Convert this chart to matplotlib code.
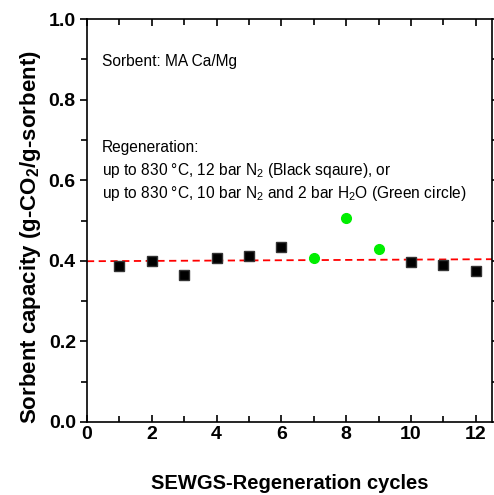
import numpy as np
import matplotlib
matplotlib.use('Agg')
import matplotlib.pyplot as plt
from matplotlib.ticker import MultipleLocator

plt.rcParams['font.family'] = ['Liberation Sans', 'DejaVu Sans']
plt.rcParams['mathtext.fontset'] = 'custom'
plt.rcParams['mathtext.rm'] = 'Liberation Sans'
plt.rcParams['mathtext.bf'] = 'Liberation Sans:bold'

# 数据
n2_cycles = [1, 2, 3, 4, 5, 6, 10, 11, 12]
n2_capacity = [0.387, 0.400, 0.365, 0.407, 0.413, 0.434, 0.398, 0.390, 0.375]
h2o_cycles = [7, 8, 9]
h2o_capacity = [0.408, 0.506, 0.429]
ref_x = [0, 12.5]
ref_y = [0.399, 0.404]

fig = plt.figure(figsize=(4.94, 4.95), dpi=100)
ax = fig.add_axes([0.176, 0.1475, 0.82, 0.814])

ax.plot(ref_x, ref_y, '--', color='#ff0000', lw=1.3, dashes=(4, 2.5))
ax.plot(n2_cycles, n2_capacity, 's', color='black', ms=6.5, mec='#333333')
ax.plot(h2o_cycles, h2o_capacity, 'o', color='#00ee00', ms=7, mec='#00ee00')

ax.set_xlim(0, 12.5)
ax.set_ylim(0, 1.0)
ax.xaxis.set_major_locator(MultipleLocator(2))
ax.xaxis.set_minor_locator(MultipleLocator(1))
ax.yaxis.set_major_locator(MultipleLocator(0.2))
ax.yaxis.set_minor_locator(MultipleLocator(0.1))
ax.yaxis.set_major_formatter(matplotlib.ticker.FormatStrFormatter('%.1f'))

ax.tick_params(axis='x', which='both', direction='in', top=True, width=1.2)
ax.tick_params(axis='x', which='major', length=5)
ax.tick_params(axis='x', which='minor', length=4)
ax.tick_params(axis='y', which='both', direction='out', right=True, width=1.2)
ax.tick_params(axis='y', which='major', length=5)
ax.tick_params(axis='y', which='minor', length=4)
ax.tick_params(axis='both', which='major', labelsize=14, pad=3)
for lab in ax.get_xticklabels() + ax.get_yticklabels():
    lab.set_fontweight('bold')
for s in ax.spines.values():
    s.set_linewidth(1.2)

ax.set_xlabel('SEWGS-Regeneration cycles', fontsize=14.5, fontweight='bold')
ax.xaxis.set_label_coords(0.501, -0.128)
ax.set_ylabel(r'Sorbent capacity (g-CO$_\mathbf{2}$/g-sorbent)', fontsize=16,
              fontweight='bold')
ax.yaxis.set_label_coords(-0.108, 0.459)

fs = 11.2
ax.text(0.45, 0.883, 'Sorbent: MA Ca/Mg', fontsize=fs)
ax.text(0.45, 0.67, 'Regeneration:', fontsize=fs)
ax.text(0.45, 0.613, r'up to 830 $\degree$C, 12 bar N$_2$ (Black sqaure), or', fontsize=fs)
ax.text(0.45, 0.556, r'up to 830 $\degree$C, 10 bar N$_2$ and 2 bar H$_2$O (Green circle)', fontsize=fs)

plt.savefig('out.png', dpi=100)
